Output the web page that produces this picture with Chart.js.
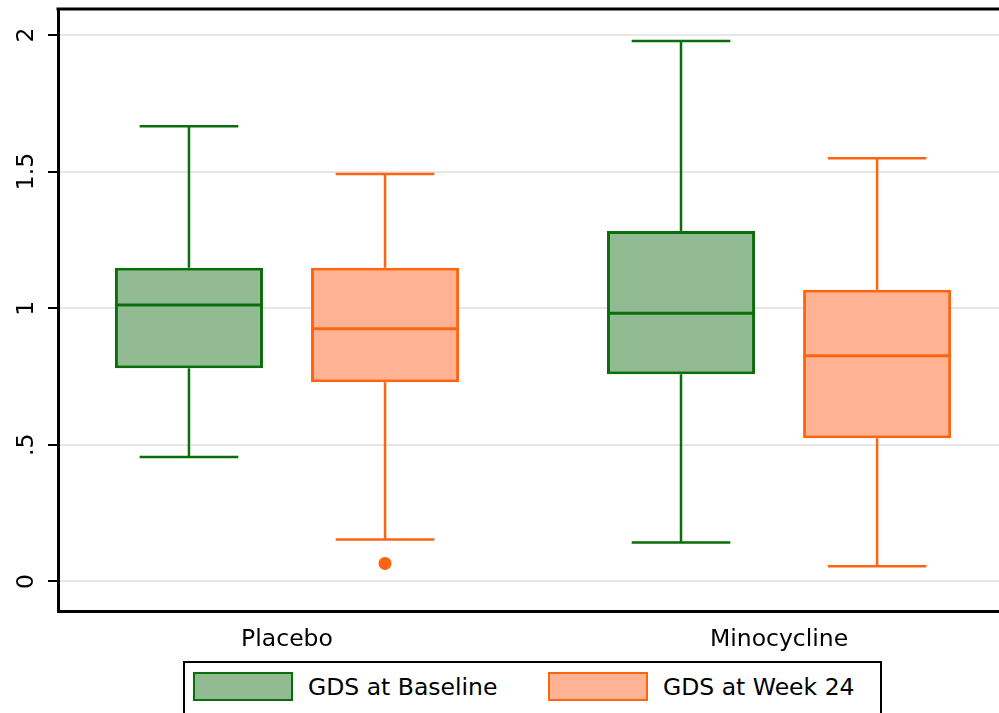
<!DOCTYPE html>
<html>
<head>
<meta charset="utf-8">
<script src="https://cdn.jsdelivr.net/npm/chart.js@4/dist/chart.umd.min.js"></script>
<style>
  html, body { margin: 0; padding: 0; background: #fff; }
  #wrap { position: relative; width: 999px; height: 713px; overflow: hidden; }
  #legend {
    position: absolute; left: 183px; top: 661px; width: 699px; height: 62px;
    box-sizing: border-box; border: 2px solid #000; background: #fff;
    font-family: 'DejaVu Sans'; font-size: 23.5px; color: #000;
  }
  .item { position: absolute; top: 9px; display: flex; align-items: center; }
  .swatch { width: 100px; height: 29px; box-sizing: border-box; border: 2.5px solid; margin-right: 15px; }
</style>
</head>
<body>
<div id="wrap">
  <canvas id="myChart" width="999" height="713"></canvas>
  <div id="legend"></div>
</div>
<script>
const categories = ['Placebo', 'Minocycline'];
const seriesNames = ['GDS at Baseline', 'GDS at Week 24'];

// box plot stats
const baselineMin = [0.456, 0.143];
const baselineQ1 = [0.780, 0.758];
const baselineMedian = [1.012, 0.982];
const baselineQ3 = [1.148, 1.283];
const baselineMax = [1.666, 1.978];

const week24Min = [0.154, 0.056];
const week24Q1 = [0.729, 0.524];
const week24Median = [0.925, 0.826];
const week24Q3 = [1.148, 1.068];
const week24Max = [1.491, 1.549];
const week24Outliers = [[0.066], []];

const yTicks = [0, 0.5, 1, 1.5, 2];
const yTickLabels = ['0', '.5', '1', '1.5', '2'];

const green = '#0a6e0a', greenFill = '#93bb93';
const orange = '#ff6410', orangeFill = '#ffb394';

Chart.defaults.font.family = 'DejaVu Sans';
Chart.defaults.font.size = 23.5;
Chart.defaults.color = '#000';

function boxData(q1, q3) {
  return categories.map((c, i) => ({ x: i, y: [q1[i], q3[i]] }));
}

// whiskers, medians and outliers on top of the floating bars
const whiskerPlugin = {
  id: 'whiskers',
  afterDatasetsDraw(chart) {
    const ctx = chart.ctx;
    const yScale = chart.scales.y;
    chart.data.datasets.forEach((ds, di) => {
      const meta = chart.getDatasetMeta(di);
      meta.data.forEach((bar, i) => {
        const w = ds.whisker;
        const x = bar.x;
        const half = bar.width / 2;
        const cap = bar.width / 3;
        const yMin = yScale.getPixelForValue(w.min[i]);
        const yMax = yScale.getPixelForValue(w.max[i]);
        const yQ1 = yScale.getPixelForValue(ds.data[i].y[0]);
        const yQ3 = yScale.getPixelForValue(ds.data[i].y[1]);
        const yMed = yScale.getPixelForValue(w.median[i]);
        ctx.save();
        ctx.strokeStyle = ds.borderColor;
        ctx.lineWidth = 2.5;
        ctx.beginPath();
        ctx.moveTo(x, yQ3); ctx.lineTo(x, yMax);
        ctx.moveTo(x - cap, yMax); ctx.lineTo(x + cap, yMax);
        ctx.moveTo(x, yQ1); ctx.lineTo(x, yMin);
        ctx.moveTo(x - cap, yMin); ctx.lineTo(x + cap, yMin);
        ctx.stroke();
        ctx.lineWidth = 3;
        ctx.beginPath();
        ctx.moveTo(x - half, yMed); ctx.lineTo(x + half, yMed);
        ctx.stroke();
        ctx.fillStyle = ds.borderColor;
        (w.outliers[i] || []).forEach(v => {
          ctx.beginPath();
          ctx.arc(x, yScale.getPixelForValue(v), 6.5, 0, Math.PI * 2);
          ctx.fill();
        });
        ctx.restore();
      });
    });
  },
  afterDraw(chart) {
    const a = chart.chartArea;
    const ctx = chart.ctx;
    ctx.save();
    ctx.strokeStyle = '#000';
    ctx.lineWidth = 3;
    ctx.beginPath();
    ctx.moveTo(a.left - 1.5, a.top);
    ctx.lineTo(a.right, a.top);
    ctx.stroke();
    ctx.restore();
  }
};

const ctx = document.getElementById('myChart').getContext('2d');
new Chart(ctx, {
  type: 'bar',
  data: {
    datasets: [{
      label: seriesNames[0],
      data: boxData(baselineQ1, baselineQ3),
      backgroundColor: greenFill,
      borderColor: green,
      borderWidth: 3,
      borderSkipped: false,
      whisker: { min: baselineMin, median: baselineMedian, max: baselineMax, outliers: [[], []] }
    }, {
      label: seriesNames[1],
      data: boxData(week24Q1, week24Q3),
      backgroundColor: orangeFill,
      borderColor: orange,
      borderWidth: 3,
      borderSkipped: false,
      whisker: { min: week24Min, median: week24Median, max: week24Max, outliers: week24Outliers }
    }]
  },
  options: {
    responsive: false,
    animation: false,
    categoryPercentage: 0.797,
    barPercentage: 0.755,
    layout: { padding: { top: 9, left: 0, right: 0, bottom: 0 } },
    plugins: { legend: { display: false }, tooltip: { enabled: false } },
    scales: {
      x: {
        type: 'linear',
        offset: false,
        min: -0.4654,
        max: 1.447,
        grid: { display: false, drawTicks: false, offset: false },
        border: { color: '#000', width: 3 },
        afterBuildTicks: (s) => { s.ticks = categories.map((c, i) => ({ value: i })); },
        afterFit: (s) => { s.height = 102; s.paddingLeft = 0; s.paddingRight = 0; },
        ticks: { padding: 15, callback: (v, i) => categories[i] }
      },
      y: {
        min: -0.108,
        max: 2.095,
        grid: { color: '#e6e6e6', lineWidth: 2, tickColor: '#000', tickWidth: 2, tickLength: 10 },
        border: { color: '#000', width: 3 },
        afterBuildTicks: (s) => { s.ticks = yTicks.map(v => ({ value: v })); },
        afterFit: (s) => { s.width = 58; s.paddingTop = 0; s.paddingBottom = 0; },
        ticks: {
          padding: 2,
          minRotation: 90,
          maxRotation: 90,
          crossAlign: 'center',
          callback: (v, i) => yTickLabels[i]
        }
      }
    }
  },
  plugins: [whiskerPlugin]
});

// legend
const legend = document.getElementById('legend');
[[green, greenFill, 8], [orange, orangeFill, 363]].forEach((c, i) => {
  const item = document.createElement('div');
  item.className = 'item';
  item.style.left = c[2] + 'px';
  const sw = document.createElement('span');
  sw.className = 'swatch';
  sw.style.borderColor = c[0];
  sw.style.background = c[1];
  const txt = document.createElement('span');
  txt.textContent = seriesNames[i];
  item.appendChild(sw);
  item.appendChild(txt);
  legend.appendChild(item);
});
</script>
</body>
</html>
